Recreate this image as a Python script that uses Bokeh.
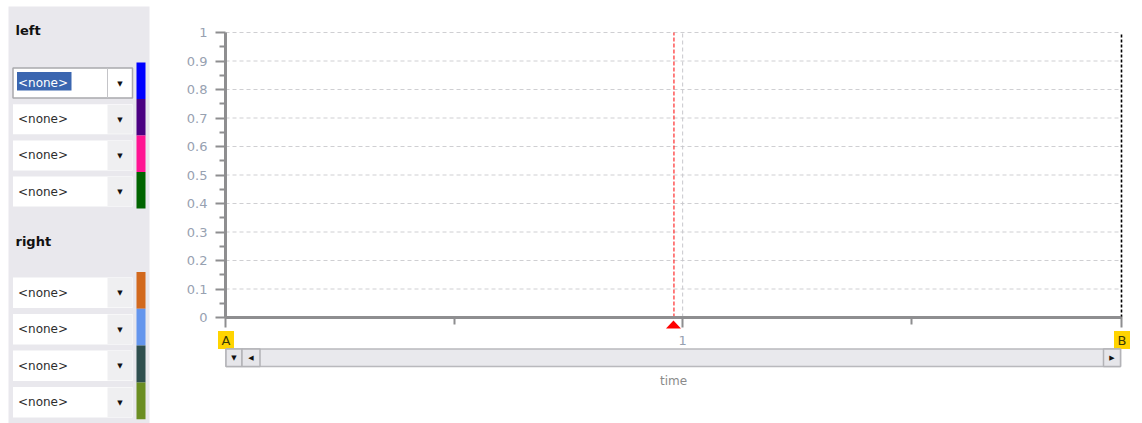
from bokeh.plotting import figure
from bokeh.models import Range1d, FixedTicker, CustomJSTickFormatter, LinearAxis
from bokeh.core.properties import value
from bokeh.embed import file_html
from bokeh.resources import INLINE

FONT = "DejaVu Sans"

# ---------------- data ----------------
left_heading = "left"
right_heading = "right"
left_channels = ["<none>", "<none>", "<none>", "<none>"]
left_colors = ["#0000ff", "#4b0082", "#ff1493", "#006400"]
right_channels = ["<none>", "<none>", "<none>", "<none>"]
right_colors = ["#d2691e", "#6495ed", "#2f4f4f", "#6b8e23"]

y_ticks = [0.0, 0.1, 0.2, 0.3, 0.4, 0.5, 0.6, 0.7, 0.8, 0.9, 1.0]
y_tick_labels = ["0", "0.1", "0.2", "0.3", "0.4", "0.5", "0.6", "0.7", "0.8", "0.9", "1"]
y_minor_ticks = [0.05, 0.15, 0.25, 0.35, 0.45, 0.55, 0.65, 0.75, 0.85, 0.95]
x_ticks = [0.0, 1.0, 1.96]
x_tick_labels = ["", "1", ""]
x_minor_ticks = [0.5, 1.5]
x_grid_ticks = [1.0]
x_start, x_end = 0.0, 1.96
y_start, y_end = 0.0, 1.0
cursor_red = 0.981
cursor_a = 0.0
cursor_b = 1.96
marker_labels = ["A", "B"]
x_axis_title = "time"

# ---------------- canvas geometry (pixels) ----------------
W, H = 1142, 423
AX_L, AX_R, AX_T, AX_B = 225, 1121, 32, 317
sx = (x_end - x_start) / (AX_R - AX_L)
sy = (y_end - y_start) / (AX_B - AX_T)


def X(px):
    return x_start + (px - AX_L) * sx


def Y(py):
    return y_start + (AX_B - py) * sy


def Xs(lst):
    return [X(v) for v in lst]


def Ys(lst):
    return [Y(v) for v in lst]


p = figure(width=W, height=H, x_range=Range1d(X(0), X(W)), y_range=Range1d(Y(H), Y(0)),
           min_border=0, x_axis_location=None, y_axis_location=None,
           output_backend="svg", toolbar_location=None, outline_line_color=None,
           background_fill_color="#ffffff", border_fill_color="#ffffff")
p.grid.visible = False

# ---------------- left panel ----------------
p.quad(left=[X(8)], right=[X(149)], top=[Y(6)], bottom=[Y(H)], fill_color="#e9e8ed", line_color=None)


def draw_group(heading, head_y, labels, colors, first_top, pitch, box_h, bar_top, bar_h, selected=None):
    p.text(x=[X(15)], y=[Y(head_y)], text=[heading], text_font=value(FONT), text_font_size="13px",
           text_font_style="bold", text_baseline="middle", text_color="#111111")
    n = len(labels)
    tops = [first_top + i * pitch for i in range(n)]
    bots = [t + box_h for t in tops]
    mids = [t + box_h / 2 for t in tops]
    p.quad(left=[X(12.5)] * n, right=[X(132)] * n, top=Ys(tops), bottom=Ys(bots),
           fill_color="#ffffff", line_color=None)
    arrow_fill = ["#ffffff" if i == selected else "#efeff1" for i in range(n)]
    p.quad(left=[X(107)] * n, right=[X(131.5)] * n, top=Ys([t + 0.5 for t in tops]),
           bottom=Ys([b - 0.5 for b in bots]), fill_color=arrow_fill, line_color=None)
    if selected is not None:
        t, b = tops[selected], bots[selected]
        p.quad(left=[X(12.5)], right=[X(132)], top=[Y(t)], bottom=[Y(b)], fill_color=None,
               line_color="#a9a9ad", line_width=1.5)
        p.segment(x0=[X(107)], y0=[Y(t)], x1=[X(107)], y1=[Y(b)], line_color="#c4c4c8", line_width=1)
        p.quad(left=[X(16.5)], right=[X(71)], top=[Y(t + 4)], bottom=[Y(b - 7.5)],
               fill_color="#3b66b0", line_color=None)
    txt_col = ["#ffffff" if i == selected else "#2d2d2d" for i in range(n)]
    p.text(x=[X(17.5)] * n, y=Ys(mids), text=labels, text_font=value(FONT), text_font_size="12px",
           text_baseline="middle", text_color=txt_col)
    p.text(x=[X(119.5)] * n, y=Ys([m + 0.5 for m in mids]), text=["\u25bc"] * n, text_font=value(FONT),
           text_font_size="7px", text_align="center", text_baseline="middle", text_color="#111111")
    btops = [bar_top + i * bar_h for i in range(n)]
    p.quad(left=[X(136)] * n, right=[X(145)] * n, top=Ys(btops), bottom=Ys([t + bar_h for t in btops]),
           fill_color=colors, line_color=None)


draw_group(left_heading, 30, left_channels, left_colors, 67.5, 36.2, 30, 62, 36.5, selected=0)
draw_group(right_heading, 241, right_channels, right_colors, 277, 36.5, 30.5, 271.5, 36.8)

# ---------------- chart grid & cursors ----------------
GRID = "#cfcfd2"
gy = y_ticks[1:]
p.segment(x0=[x_start] * len(gy), y0=gy, x1=[x_end] * len(gy), y1=gy,
          line_color=GRID, line_width=1, line_dash="4 3")
p.segment(x0=x_grid_ticks, y0=[y_start] * len(x_grid_ticks), x1=x_grid_ticks, y1=[y_end] * len(x_grid_ticks),
          line_color="#c8c8cc", line_width=1, line_dash="4 3")
p.segment(x0=[cursor_red], y0=[y_start], x1=[cursor_red], y1=[y_end],
          line_color="#ff0000", line_width=1, line_dash="4 2")
p.segment(x0=[cursor_b], y0=[y_start], x1=[cursor_b], y1=[y_end],
          line_color="#000000", line_width=1.6, line_dash="3 2")
p.patch(x=[cursor_red - 8 * sx, cursor_red + 7 * sx, cursor_red - 0.5 * sx],
        y=[Y(328), Y(328), Y(320)], fill_color="#ff0000", line_color=None)

# ---------------- A / B markers ----------------
for cx, lab in zip([cursor_a, cursor_b], marker_labels):
    p.quad(left=[cx - 7.5 * sx], right=[cx + 8.5 * sx], top=[Y(330.5)], bottom=[Y(348.5)],
           fill_color="#ffd400", line_color=None)
    p.text(x=[cx + 0.5 * sx], y=[Y(339.5)], text=[lab], text_font=value(FONT), text_font_size="13px",
           text_align="center", text_baseline="middle", text_color="#3a3a06")

# ---------------- scrollbar ----------------
p.quad(left=[X(225.5)], right=[X(1120)], top=[Y(348.5)], bottom=[Y(366)],
       fill_color="#e9e9ed", line_color="#b9b9bd", line_width=1.5)
btn_l = [225.5, 241.5, 1103]
btn_r = [241.5, 259.5, 1120]
btn_g = ["\u25bc", "\u25c0", "\u25b6"]
p.quad(left=Xs(btn_l), right=Xs(btn_r), top=[Y(348.5)] * 3, bottom=[Y(366)] * 3,
       fill_color="#e6e6ea", line_color="#b3b3b7", line_width=1.5)
p.text(x=Xs([(l + r) / 2 for l, r in zip(btn_l, btn_r)]), y=[Y(357.5)] * 3, text=btn_g,
       text_font=value(FONT), text_font_size="7px", text_align="center", text_baseline="middle",
       text_color="#111111")

# ---------------- axes ----------------
AX = "#8e8e90"
LAB = "#97a1b1"
fmt_code = "const i = vals.findIndex(v => Math.abs(v - tick) < 1e-9); return i >= 0 ? labels[i] : '';"

yax = LinearAxis(fixed_location=x_start, bounds=(y_start, y_end),
                 ticker=FixedTicker(ticks=y_ticks, minor_ticks=y_minor_ticks),
                 formatter=CustomJSTickFormatter(args=dict(vals=y_ticks, labels=y_tick_labels), code=fmt_code))
yax.axis_line_color = AX
yax.axis_line_width = 3
yax.major_tick_line_color = AX
yax.major_tick_line_width = 2
yax.minor_tick_line_color = AX
yax.minor_tick_line_width = 2
yax.major_tick_in = 0
yax.major_tick_out = 10
yax.minor_tick_in = 0
yax.minor_tick_out = 6
yax.major_label_standoff = 8
yax.major_label_text_color = LAB
yax.major_label_text_font = FONT
yax.major_label_text_font_size = "13px"
p.add_layout(yax, "left")

xax = LinearAxis(fixed_location=y_start, bounds=(x_start, x_end),
                 ticker=FixedTicker(ticks=x_ticks, minor_ticks=x_minor_ticks),
                 formatter=CustomJSTickFormatter(args=dict(vals=x_ticks, labels=x_tick_labels), code=fmt_code))
xax.axis_line_color = AX
xax.axis_line_width = 3
xax.major_tick_line_color = AX
xax.major_tick_line_width = 2
xax.minor_tick_line_color = AX
xax.minor_tick_line_width = 2
xax.major_tick_in = 0
xax.major_tick_out = 10
xax.minor_tick_in = 0
xax.minor_tick_out = 7
xax.major_label_standoff = 8
xax.major_label_text_color = LAB
xax.major_label_text_font = FONT
xax.major_label_text_font_size = "13px"
xax.axis_label = x_axis_title
xax.axis_label_text_font = FONT
xax.axis_label_text_font_style = "normal"
xax.axis_label_text_font_size = "12px"
xax.axis_label_text_color = "#8a8a8a"
xax.axis_label_standoff = 26
p.add_layout(xax, "below")

open("out.html", "w").write(file_html(p, INLINE))
